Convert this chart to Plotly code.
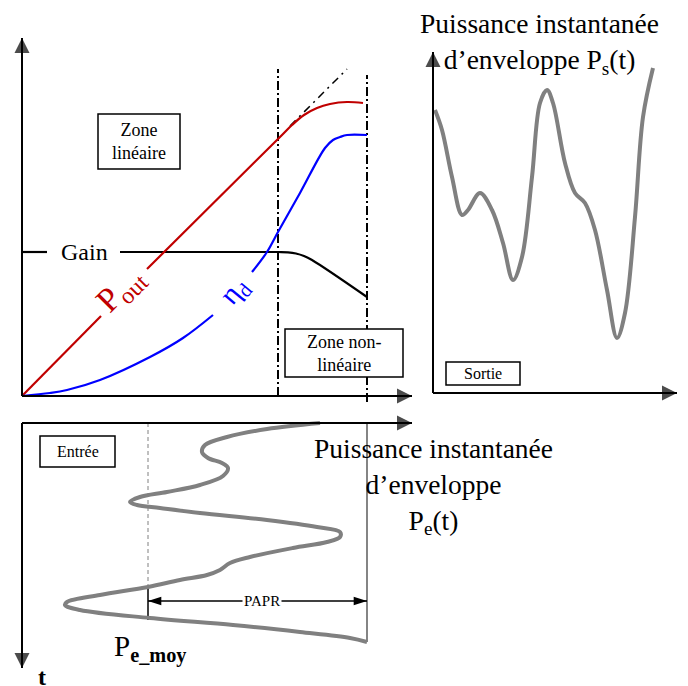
import plotly.graph_objects as go

# The page body has an 8 px margin: the figure is drawn 8 px in from the window corner.
OFF = 8
W, H = 688 - OFF, 686 - OFF
FONT = "Liberation Serif, Times New Roman, serif"

# ---------------- Panel A : caractéristiques (Pin en abscisse) ----------------
pout_a_x = [0, 79]
pout_a_y = [0, 80]
pout_b_x = [125, 258, 270, 282, 295, 308, 325, 341]
pout_b_y = [127, 259, 271, 281, 288, 292, 294, 293]
pout_ext_x = [268, 325]
pout_ext_y = [270, 327]

eta_a_x = [0, 28, 45, 78, 128, 161, 191]
eta_a_y = [0, 3, 6, 16, 39, 58, 81]
eta_b_x = [230, 245, 256, 278, 303, 311, 318, 325, 345]
eta_b_y = [124, 144, 164, 203, 248, 256, 259, 261, 261]

gain_a_x = [0, 25]
gain_a_y = [144, 144]
gain_b_x = [98, 256, 266, 274, 282, 290, 345]
gain_b_y = [144, 144, 143.7, 142.5, 140, 136, 99]

zone_limits = [256, 345]

# ---------------- Panel B : entrée (P en abscisse, t vers le bas) ----------------
pe_P = [298, 245, 205, 183, 180, 186, 200, 206, 201, 178, 145, 118, 108, 115, 138,
        178, 245, 295, 318, 318, 305, 271, 228, 208, 198, 185, 158, 126, 78, 45, 43,
        58, 128, 211, 278, 328, 345]
pe_t = [0, 6, 14, 22, 29, 35, 40, 45, 53, 62, 69, 74, 79, 82, 85,
        90, 97, 104, 109, 114, 119, 125, 134, 140, 147, 152, 157, 164, 172, 179, 182,
        187, 195, 202, 209, 215, 219]
pe_moy = 126
pe_max = 345
papr_t = 178

# ---------------- Panel C : sortie (t en abscisse) ----------------
ps_t = [2, 9, 19, 29, 35, 47, 59, 70, 80, 89, 99, 107, 114, 120, 132, 142, 152,
        162, 174, 184, 192, 202, 210, 220]
ps_P = [283, 263, 216, 178, 183, 200, 183, 150, 113, 136, 216, 290, 303, 290, 230,
        200, 190, 163, 103, 55, 80, 176, 276, 325]

fig = go.Figure()


def line(x, y, ax, color, width, dash=None, shape="linear"):
    fig.add_trace(go.Scatter(
        x=x, y=y, xaxis=ax[0], yaxis=ax[1], mode="lines",
        line=dict(color=color, width=width, dash=dash, shape=shape, smoothing=1.0),
        hoverinfo="skip", showlegend=False))


def arrow_axis(x, y, ax, symbol):
    fig.add_trace(go.Scatter(
        x=x, y=y, xaxis=ax[0], yaxis=ax[1], mode="lines+markers",
        line=dict(color="black", width=2),
        marker=dict(symbol=["circle", symbol], size=[0, 15], color="black",
                    line=dict(width=0)),
        cliponaxis=False, hoverinfo="skip", showlegend=False))


A = ("x", "y")
B = ("x2", "y2")
C = ("x3", "y3")

# Panel A
line([zone_limits[0]] * 2, [0, 327], A, "black", 2, dash="9px,3px,2px,3px")
line([zone_limits[1]] * 2, [-6, 321], A, "black", 2, dash="9px,3px,2px,3px")
line(pout_ext_x, pout_ext_y, A, "black", 1.5, dash="8px,5px,2px,5px")
line(gain_a_x, gain_a_y, A, "black", 2.2)
line(gain_b_x, gain_b_y, A, "black", 2.2, shape="spline")
line(pout_a_x, pout_a_y, A, "#C00000", 2.2)
line(pout_b_x, pout_b_y, A, "#C00000", 2.2, shape="spline")
line(eta_a_x, eta_a_y, A, "#0000FF", 2.2, shape="spline")
line(eta_b_x, eta_b_y, A, "#0000FF", 2.2, shape="spline")
arrow_axis([0, 0], [0, 358], A, "arrow-up")
arrow_axis([0, 390], [0, 0], A, "arrow-right")

# Panel B
line([pe_moy, pe_moy], [0, 165], B, "#808080", 1, dash="4px,3px")
line([pe_moy, pe_moy], [165, 197], B, "black", 1.5)
line([pe_max, pe_max], [0, 219], B, "#333333", 1.2)
line(pe_P, pe_t, B, "#808080", 4, shape="spline")
fig.add_trace(go.Scatter(
    x=[pe_moy, pe_max], y=[papr_t, papr_t], xaxis="x2", yaxis="y2",
    mode="lines+markers", line=dict(color="black", width=1.5),
    marker=dict(symbol="arrow", size=14, angle=[-90, 90], color="black",
                line=dict(width=0)),
    cliponaxis=False, hoverinfo="skip", showlegend=False))
arrow_axis([0, 390], [0, 0], B, "arrow-right")
arrow_axis([0, 0], [0, 245], B, "arrow-down")

# Panel C
line(ps_t, ps_P, C, "#808080", 4, shape="spline")
arrow_axis([0, 0], [0, 341], C, "arrow-up")
arrow_axis([0, 244], [0, 0], C, "arrow-right")


def px(xp, yp):
    return (xp - OFF) / W, 1 - (yp - OFF) / H


def text(xp, yp, t, size, color="black", angle=0, xanchor="center", bg=None):
    x, y = px(xp, yp)
    fig.add_annotation(x=x, y=y, xref="paper", yref="paper", text=t,
                       showarrow=False, textangle=angle, xanchor=xanchor,
                       yanchor="middle", bgcolor=bg,
                       font=dict(family=FONT, size=size, color=color))


def box(x0, y0, x1, y1, layer="above"):
    a0, b0 = px(x0, y0)
    a1, b1 = px(x1, y1)
    fig.add_shape(type="rect", xref="paper", yref="paper", x0=a0, y0=b0, x1=a1, y1=b1,
                  line=dict(color="black", width=1.5), fillcolor="white", layer=layer)


box(98, 114, 180, 169)
box(285, 329, 403, 377)
box(40, 436, 115, 467)
box(446, 362, 520, 385)

text(84, 252, "Gain", 24)
text(139, 141, "Zone<br>linéaire", 18)
text(344, 353, "Zone non-<br>linéaire", 18)
text(121, 290, "P<sub>out</sub>", 34, color="#C00000", angle=-45)
text(234, 292, "η<sub>d</sub>", 29, color="#0000FF", angle=-50)
text(539, 44, "Puissance instantanée<br>d’enveloppe P<sub>s</sub>(t)", 27.5)
text(433, 486, "Puissance instantanée<br>d’enveloppe<br>P<sub>e</sub>(t)", 27.5)
text(77.5, 451.5, "Entrée", 16)
text(483, 373.5, "Sortie", 16)
text(262, 601, "PAPR", 15, bg="white")
text(150, 648, "P<sub><b>e_moy</b></sub>", 29)
text(42, 677, "<b>t</b>", 24)
text(680, 378, "<b>t</b>", 24, xanchor="left")


def xdom(ox, r):
    return [(ox - OFF + r[0]) / W, (ox - OFF + r[1]) / W]


def ydom_up(oy, r):
    return [(H - (oy - OFF - r[0])) / H, (H - (oy - OFF - r[1])) / H]


def ydom_down(oy, r):
    return [(H - (oy - OFF + r[1])) / H, (H - (oy - OFF + r[0])) / H]


ax_common = dict(visible=False, fixedrange=True)
rAx, rAy = [-13, 400], [-15, 365]
rBx, rBt = [-13, 400], [-10, 250]
rCx, rCy = [-10, 246], [-10, 345]

fig.update_layout(
    width=W, height=H, margin=dict(l=0, r=0, t=0, b=0),
    paper_bgcolor="white", plot_bgcolor="white", showlegend=False,
    xaxis=dict(domain=xdom(22, rAx), range=rAx, anchor="y", **ax_common),
    yaxis=dict(domain=ydom_up(396, rAy), range=rAy, anchor="x", **ax_common),
    xaxis2=dict(domain=xdom(22, rBx), range=rBx, anchor="y2", **ax_common),
    yaxis2=dict(domain=ydom_down(423, rBt), range=[rBt[1], rBt[0]], anchor="x2", **ax_common),
    xaxis3=dict(domain=xdom(433, rCx), range=rCx, anchor="y3", **ax_common),
    yaxis3=dict(domain=ydom_up(393, rCy), range=rCy, anchor="x3", **ax_common),
)

fig.write_html("out.html")
